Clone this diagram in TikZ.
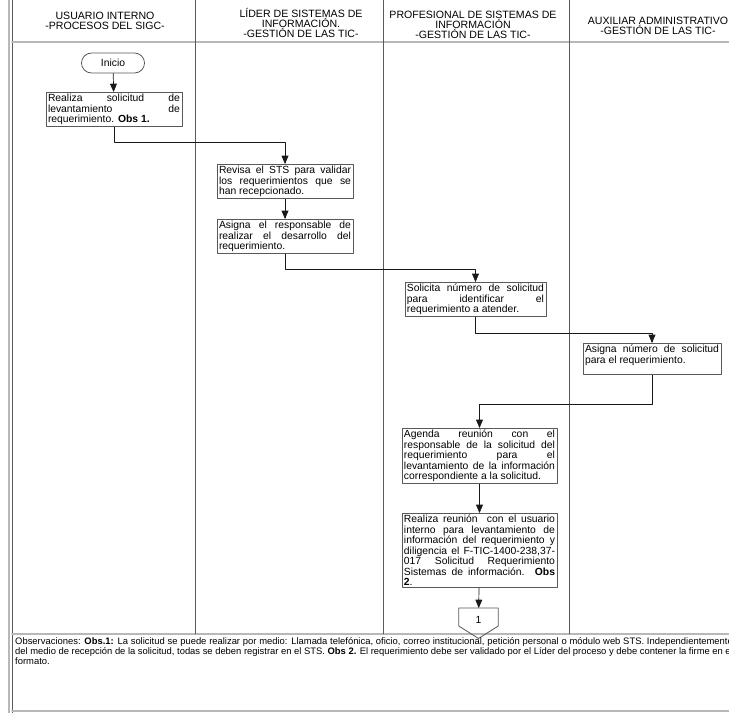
\documentclass[tikz,border=0pt]{standalone}
\usepackage{fontspec}
\setmainfont{Liberation Sans}
\usepackage{tikz}
\usetikzlibrary{calc}
\usetikzlibrary{arrows}
\definecolor{wwwwww}{rgb}{0.35,0.35,0.35}
\definecolor{bcbcbc}{rgb}{0.72,0.72,0.72}
\definecolor{qqqqqq}{rgb}{0.1,0.1,0.1}
\tikzstyle{every node}=[font={\fontsize{8.8}{8.9}\selectfont}]
\tikzstyle{proc}=[draw=wwwwww,line width=0.7pt,anchor=north,inner xsep=1.7pt,inner ysep=1.6pt,align=justify]
\tikzstyle{head}=[align=center,font={\fontsize{9}{8.4}\selectfont}]
\tikzstyle{flow}=[->,line width=0.6pt,color=qqqqqq]

\begin{document}
\begin{tikzpicture}[line cap=round,line join=round,>=triangle 45,x=0.85pt,y=-0.85pt]
            \useasboundingbox (0,0) rectangle (729,713);
            \clip (0,0) rectangle (729,713);
            % lanes
            \draw [line width=1.2pt,color=bcbcbc] (9,0) -- (9,713);
            \draw [line width=0.7pt,color=wwwwww] (12,0) -- (12,713);
            \draw [line width=1.6pt,color=bcbcbc] (12,42) -- (729,42);
            \draw [line width=1.4pt,color=bcbcbc] (12,634) -- (729,634);
            \draw [line width=1.2pt,color=bcbcbc] (12,711) -- (729,711);
            \draw [line width=0.7pt,color=wwwwww] (195,0) -- (195,634);
            \draw [line width=0.7pt,color=wwwwww] (383,0) -- (383,634);
            \draw [line width=0.7pt,color=wwwwww] (569,0) -- (569,634);
            \node [head] (usuario) at (105,20.5) {USUARIO INTERNO\\-PROCESOS DEL SIGC-};
            \node [head] (lider) at (301,23) {LÍDER DE SISTEMAS DE\\INFORMACIÓN.\\-GESTIÓN DE LAS TIC-};
            \node [head] (profesional) at (473,24.5) {PROFESIONAL DE SISTEMAS DE\\INFORMACIÓN\\-GESTIÓN DE LAS TIC-};
            \node [head] (auxiliar) at (658,26) {AUXILIAR ADMINISTRATIVO\\-GESTIÓN DE LAS TIC-};
            % steps
            \node [draw=wwwwww,line width=0.7pt,rounded corners=8.5pt,minimum width=53.6pt,minimum height=17pt] (inicio) at (113,63) {Inicio};
            \node [proc,text width=112.2pt] (realiza) at (114,92) {Realiza solicitud de\linebreak levantamiento de\linebreak requerimiento. \textbf{Obs 1.}};
            \node [proc,text width=112.2pt] (revisa) at (285,164) {Revisa el STS para validar\linebreak los requerimientos que se\linebreak han recepcionado.};
            \node [proc,text width=112.2pt] (responsable) at (285,219) {Asigna el responsable de\linebreak realizar el desarrollo del\linebreak requerimiento.};
            \node [proc,text width=116.5pt] (solicita) at (475.5,282) {Solicita número de solicitud\linebreak para identificar el\linebreak requerimiento a atender.};
            \node [proc,text width=113.9pt,text depth=17pt] (numero) at (652,343) {Asigna número de solicitud\linebreak para el requerimiento.};
            \node [proc,text width=128.4pt] (agenda) at (479.5,428) {Agenda reunión con el\linebreak responsable de la solicitud del\linebreak requerimiento para el\linebreak levantamiento de la información\linebreak correspondiente a la solicitud.};
            \node [proc,text width=128.4pt] (reunion) at (479.5,513) {Realiza reunión~ con el usuario\linebreak interno para levantamiento de\linebreak información del requerimiento y\linebreak diligencia el F-TIC-1400-238,37-\linebreak 017 Solicitud Requerimiento\linebreak Sistemas de información. \textbf{Obs}\linebreak \textbf{2}.};
            \node [minimum width=33.15pt,minimum height=25.5pt,anchor=north] (pagina) at (478.5,608) {};
            \draw [line width=0.7pt,color=wwwwww] (pagina.north west) -- (pagina.north east) -- ($(pagina.north east)+(0,18)$) -- (pagina.south) -- ($(pagina.north west)+(0,18)$) -- cycle;
            \node at ($(pagina.north)+(0,12)$) {1};
            % connectors
            \draw [flow] (inicio) -- (realiza);
            \draw [flow] (realiza.south) -- ++(0,15) -| (revisa.north);
            \draw [flow] (revisa) -- (responsable);
            \draw [flow] (responsable.south) -- ++(0,15) -| (solicita.north);
            \draw [flow] (solicita.south) -- ++(0,16) -| (numero.north);
            \draw [flow] (numero.south) -- ++(0,29) -| (agenda.north);
            \draw [flow] (agenda) -- (reunion);
            \draw [flow] (reunion) -- (pagina);
            % observaciones
            \begin{scriptsize}
            \node [anchor=north west,inner sep=0pt,text width=610pt,align=justify,font={\fontsize{8}{8.5}\selectfont}] (obs) at (15,637) {Observaciones: \textbf{Obs.1:} La solicitud se puede realizar por medio: Llamada telefónica, oficio, correo institucional, petición personal o módulo web STS. Independientemente\linebreak del medio de recepción de la solicitud, todas se deben registrar en el STS. \textbf{Obs 2.} El requerimiento debe ser validado por el Líder del proceso y debe contener la firme en el\linebreak formato.};
            \end{scriptsize}
\end{tikzpicture}
\end{document}
